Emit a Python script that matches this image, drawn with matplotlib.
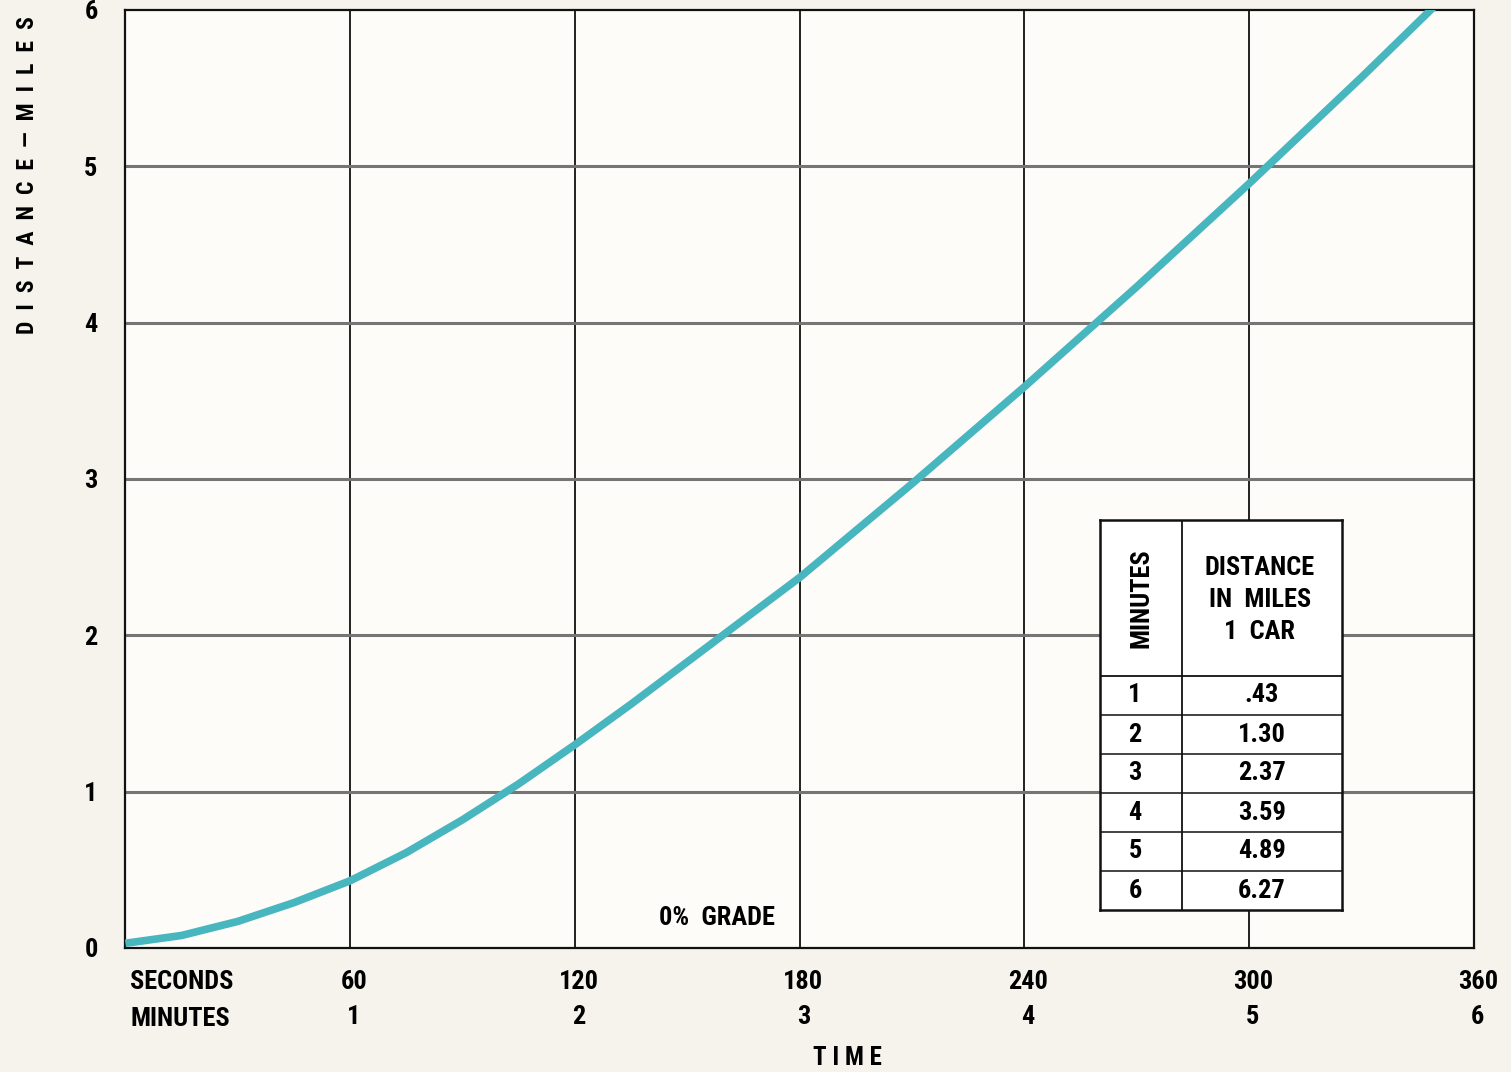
import matplotlib
matplotlib.use("Agg")
import matplotlib.pyplot as plt
from matplotlib import transforms

plt.rcParams['font.family'] = ['Roboto Condensed', 'DejaVu Sans']
plt.rcParams['font.stretch'] = 'condensed'
plt.rcParams['font.weight'] = 'bold'

# curve (seconds, miles)
seconds = [0, 15, 30, 45, 60, 75, 90, 105, 120, 135, 150, 165, 180,
           210, 240, 270, 300, 330, 360]
miles = [0.03, 0.08, 0.17, 0.29, 0.43, 0.61, 0.82, 1.05, 1.30, 1.56, 1.83, 2.10, 2.37,
         2.97, 3.59, 4.23, 4.89, 5.57, 6.27]

sec_ticks = [60, 120, 180, 240, 300, 360]
min_ticks = [1, 2, 3, 4, 5, 6]
mile_ticks = [0, 1, 2, 3, 4, 5, 6]

table_minutes = ['1', '2', '3', '4', '5', '6']
table_miles = ['.43', '1.30', '2.37', '3.59', '4.89', '6.27']

paper = '#f5f3ec'
teal = '#48b6bf'

fig = plt.figure(figsize=(15.11, 10.72), dpi=100, facecolor=paper)
ax = fig.add_axes([0.083, 0.1157, 0.8925, 0.875], facecolor='#fdfcf8')

ax.plot(seconds, miles, color=teal, lw=5.5, solid_capstyle='butt', zorder=3)
ax.set_xlim(0, 360)
ax.set_ylim(0, 6)

for s in sec_ticks[:-1]:
    ax.axvline(s, color='#111111', lw=1.3, zorder=2)
for m in mile_ticks[1:-1]:
    ax.axhline(m, color='#757575', lw=2.2, zorder=2)
for sp in ax.spines.values():
    sp.set_color('#111111')
    sp.set_linewidth(1.6)

ax.set_xticks([])
ax.set_yticks(mile_ticks)
ax.set_yticklabels([str(m) for m in mile_ticks], fontsize=19)
ax.tick_params(axis='y', length=0, pad=20)

tr = transforms.blended_transform_factory(ax.transData, fig.transFigure)
for s, m in zip(sec_ticks, min_ticks):
    ax.text(s + 1, 1 - 982 / 1072, str(s), transform=tr, ha='center', va='center', fontsize=19)
    ax.text(s + 1, 1 - 1017 / 1072, str(m), transform=tr, ha='center', va='center', fontsize=19)
fig.text(130 / 1511, 1 - 982 / 1072, 'SECONDS', ha='left', va='center', fontsize=19)
fig.text(130 / 1511, 1 - 1019 / 1072, 'MINUTES', ha='left', va='center', fontsize=19)
fig.text(847 / 1511, 1 - 1058 / 1072, 'T I M E', ha='center', va='center', fontsize=18)
fig.text(28 / 1511, 1 - 175 / 1072, 'D  I  S  T  A  N  C  E  —  M  I  L  E  S', rotation=90,
         ha='center', va='center', fontsize=17)

ax.text(158, 0.19, '0%  GRADE', ha='center', va='center', fontsize=19)

# inset table
tab = fig.add_axes([1100 / 1511, 1 - 910 / 1072, 242 / 1511, 390 / 1072], facecolor='white')
tab.set_xlim(0, 242)
tab.set_ylim(390, 0)
tab.set_xticks([])
tab.set_yticks([])
for sp in tab.spines.values():
    sp.set_color('#111111')
    sp.set_linewidth(1.8)
head_h = 156
row_h = (390 - head_h) / len(table_minutes)
tab.axvline(82, color='#111111', lw=1.3)
tab.axhline(head_h, color='#111111', lw=1.3)
for i in range(1, len(table_minutes)):
    tab.axhline(head_h + i * row_h, color='#111111', lw=1.1)
tab.text(41, head_h / 2, 'MINUTES', rotation=90, ha='center', va='center', fontsize=19)
tab.text(160, 80, 'DISTANCE\nIN  MILES\n1  CAR', ha='center', va='center',
         fontsize=19, linespacing=1.4)
for i, (mn, mi) in enumerate(zip(table_minutes, table_miles)):
    y = head_h + (i + 0.5) * row_h
    tab.text(35, y, mn, ha='center', va='center', fontsize=19)
    tab.text(162, y, mi, ha='center', va='center', fontsize=19)

fig.savefig('out.png', dpi=100, facecolor=paper)
